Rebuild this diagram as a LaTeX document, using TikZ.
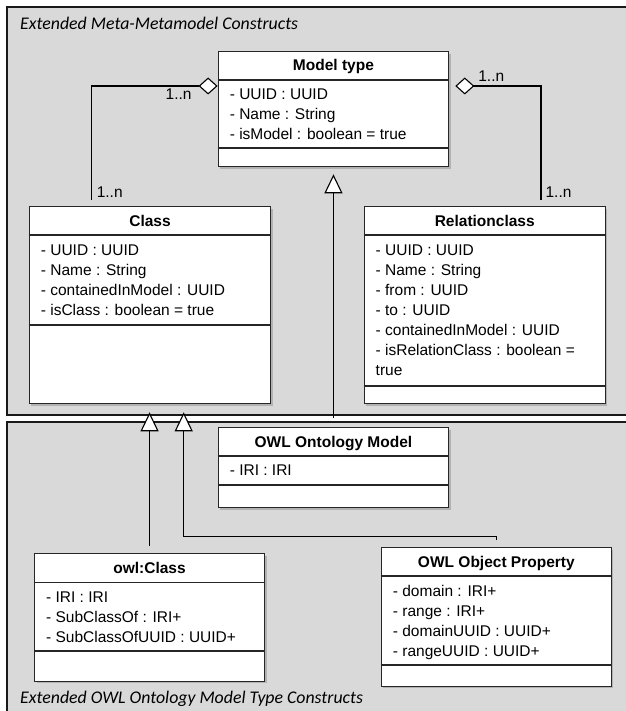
\documentclass[tikz,border=0pt]{standalone}
\usepackage{fontspec}
\setmainfont{Liberation Sans}
\newfontfamily\framefont{Carlito}
\usetikzlibrary{arrows.meta, calc, shadows}

\begin{document}
\begin{tikzpicture}[x=1pt, y=-1pt,
  frame/.style={draw=black!90, line width=2pt, fill=black!15},
  framelabel/.style={anchor=west, inner sep=0, font=\framefont\itshape\fontsize{17.8}{20}\selectfont},
  umlbox/.style={draw=black!85, line width=1.3pt, fill=white, anchor=north west, inner sep=0,
    drop shadow={shadow xshift=2pt, shadow yshift=-2pt, fill=black!40, opacity=0.6}},
  divider/.style={draw=black!85, line width=1.2pt},
  umltitle/.style={inner sep=0, text height=11pt, text depth=0pt, font=\bfseries\fontsize{15.5}{18}\selectfont},
  attr/.style={anchor=west, inner sep=0, text height=11pt, text depth=0pt, font=\fontsize{15.5}{18}\selectfont},
  mult/.style={inner sep=0, text height=11pt, text depth=0pt, font=\fontsize{15.5}{18}\selectfont},
  assoc/.style={line width=1.1pt, -{Diamond[fill=white, length=19pt, width=17pt, line width=1.1pt]}},
  gen/.style={line width=1.1pt, -{Triangle[fill=white, length=19pt, width=18pt, line width=1.1pt]}}]
\useasboundingbox (0,0) rectangle (625,711);

% package frames
\draw[frame] (7,7) rectangle (640,415);
\draw[frame] (7,422) rectangle (640,716);
\node[framelabel] (toplabel) at (20,23) {Extended Meta-Metamodel Constructs};
\node[framelabel] (botlabel) at (20,699) {Extended OWL Ontology Model Type Constructs};

% class boxes: name/x/y/width/height/first divider/second divider
\foreach \n/\x/\y/\w/\h/\da/\db in {
    modeltype/217.6/51/230.4/115/29/97,
    cls/28.7/206/241.3/197/29/119,
    relcls/363.5/206/241.2/197/29/180,
    owlmodel/217.6/427/230.4/80/29/58,
    owlclass/33.9/553/230/127.7/29.7/98,
    objprop/380.7/547/230/138.7/29/118} {
  \node[umlbox, minimum width=\w, minimum height=\h] (\n) at (\x,\y) {};
  \draw[divider] ($(\n.north west)+(0,\da)$) -- ($(\n.north east)+(0,\da)$);
  \draw[divider] ($(\n.north west)+(0,\db)$) -- ($(\n.north east)+(0,\db)$);
}

% titles
\node[umltitle] (modeltype-t) at ($(modeltype.north)+(0,14.5)$) {Model type};
\node[umltitle] (cls-t) at ($(cls.north)+(0,14.5)$) {Class};
\node[umltitle] (relcls-t) at ($(relcls.north)+(0,14.5)$) {Relationclass};
\node[umltitle] (owlmodel-t) at ($(owlmodel.north)+(0,14.5)$) {OWL Ontology Model};
\node[umltitle] (owlclass-t) at ($(owlclass.north)+(0,15)$) {owl:Class};
\node[umltitle] (objprop-t) at ($(objprop.north)+(0,14.5)$) {OWL Object Property};

% attributes
\foreach \a [count=\i] in {- UUID : UUID, - Name : String, - isModel : boolean = true}
  \node[attr] (modeltype-\i) at ($(modeltype.north west)+(12,23+20*\i)$) {\a};
\foreach \a [count=\i] in {- UUID : UUID, - Name : String, - containedInModel : UUID, - isClass : boolean = true}
  \node[attr] (cls-\i) at ($(cls.north west)+(12,24+20*\i)$) {\a};
\foreach \a [count=\i] in {- UUID : UUID, - Name : String, - from : UUID, - to : UUID,
    - containedInModel : UUID, - isRelationClass : boolean =, true}
  \node[attr] (relcls-\i) at ($(relcls.north west)+(12,24+20*\i)$) {\a};
\foreach \a [count=\i] in {- IRI : IRI}
  \node[attr] (owlmodel-\i) at ($(owlmodel.north west)+(12,23+20*\i)$) {\a};
\foreach \a [count=\i] in {- IRI : IRI, - SubClassOf : IRI+, - SubClassOfUUID : UUID+}
  \node[attr] (owlclass-\i) at ($(owlclass.north west)+(12,24+20*\i)$) {\a};
\foreach \a [count=\i] in {- domain : IRI+, - range : IRI+, - domainUUID : UUID+, - rangeUUID : UUID+}
  \node[attr] (objprop-\i) at ($(objprop.north west)+(12,24+20*\i)$) {\a};

% aggregations
\draw[assoc] ($(cls.north west)+(63,-6)$) |- ($(modeltype.north west)+(0,35)$);
\draw[assoc] ($(relcls.north west)+(177.5,-6)$) |- ($(modeltype.north east)+(6,35)$);
\node[mult] (m1) at ($(modeltype.north west)+(-39,43)$) {1..n};
\node[mult] (m2) at ($(cls.north west)+(81,-14)$) {1..n};
\node[mult] (m3) at ($(modeltype.north east)+(42,25)$) {1..n};
\node[mult] (m4) at ($(relcls.north west)+(195,-14)$) {1..n};

% generalizations
\draw[gen, shorten <=9pt, shorten >=7pt] (owlmodel.north) -- (modeltype.south);
\draw[gen, shorten <=7pt, shorten >=8pt] (owlclass.north) -- (owlclass.north |- cls.south);
\draw[gen, shorten >=8pt] ($(objprop.north)+(0,-7)$) -- ++(0,-3.3) -| ($(cls.south west)+(155,0)$);
\end{tikzpicture}
\end{document}
